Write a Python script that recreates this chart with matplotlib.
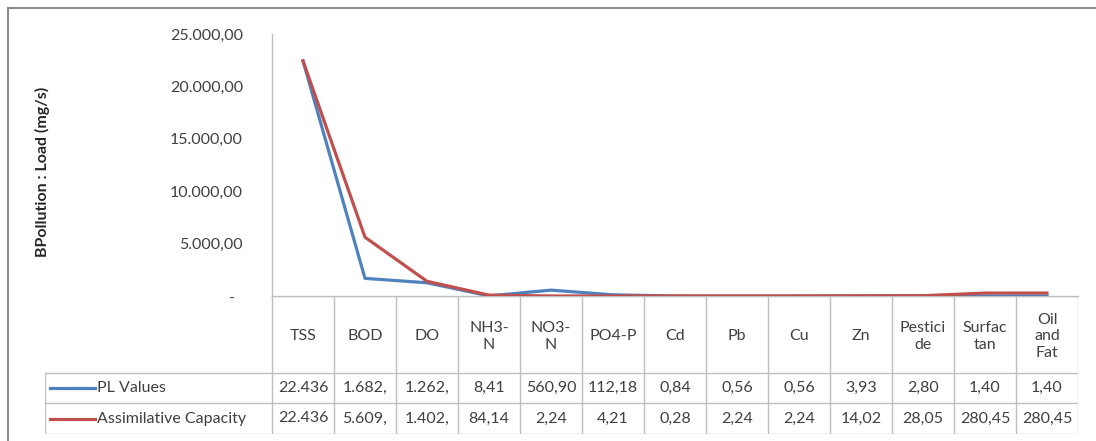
import matplotlib
matplotlib.use("Agg")
import matplotlib.pyplot as plt
from matplotlib.ticker import FuncFormatter
from matplotlib.lines import Line2D

plt.rcParams['font.family'] = ['Lato', 'DejaVu Sans']

# ---------------- data ----------------
categories = ["TSS", "BOD", "DO", "NH3-\nN", "NO3-\nN", "PO4-P", "Cd", "Pb", "Cu",
              "Zn", "Pestici\nde", "Surfac\ntan", "Oil\nand\nFat"]
pl_values = [22436.0, 1682.0, 1262.0, 8.41, 560.90, 112.18, 0.84, 0.56, 0.56,
             3.93, 2.80, 1.40, 1.40]
assim_capacity = [22436.0, 5609.0, 1402.0, 84.14, 2.24, 4.21, 0.28, 2.24, 2.24,
                  14.02, 28.05, 280.45, 280.45]
series_names = ["PL Values", "Assimilative Capacity"]
y_label = "BPollution : Load (mg/s)"
y_ticks = [0, 5000, 10000, 15000, 20000, 25000]

# ---------------- style ----------------
W, H, DPI = 1096, 441, 100
BLUE = "#4F81BD"
RED = "#C0504D"
GRID = "#BFBFBF"
TXT = "#404040"
FS = 11.5


def id_fmt(v):
    s = f"{v:,.2f}"
    return s.replace(",", "X").replace(".", ",").replace("X", ".")


def cell_fmt(v):
    # the table cells are narrow: text is clipped to 6 characters
    return id_fmt(v)[:6]


def ytick_fmt(v, pos):
    if abs(v) < 1e-9:
        return "-  "
    return id_fmt(v)


# pixel layout
plot_left, plot_right = 272, 1078
plot_top, plot_bottom = 34, 296
legend_left = 45
row1, row2, table_bottom = 373, 403, 434
n = len(categories)
col_w = (plot_right - plot_left) / n

fig = plt.figure(figsize=(W / DPI, H / DPI), dpi=DPI)
fig.patch.set_facecolor("white")


def fx(px):
    return px / W


def fy(py):
    return 1 - py / H


ax = fig.add_axes([fx(plot_left), fy(plot_bottom), fx(plot_right - plot_left),
                   (plot_bottom - plot_top) / H])
x = [i + 0.5 for i in range(n)]
ax.plot(x, pl_values, color=BLUE, lw=2.3, solid_joinstyle="round", zorder=3)
ax.plot(x, assim_capacity, color=RED, lw=2.3, solid_joinstyle="round", zorder=4)
ax.set_xlim(0, n)
ax.set_ylim(0, 25000)
ax.set_yticks(y_ticks)
ax.yaxis.set_major_formatter(FuncFormatter(ytick_fmt))
ax.tick_params(axis="y", length=0, pad=21, labelsize=FS, labelcolor=TXT)
ax.set_xticks([])
for side in ["top", "right"]:
    ax.spines[side].set_visible(False)
ax.spines["left"].set_color(GRID)
ax.spines["bottom"].set_color(GRID)
ax.spines["left"].set_linewidth(1.0)
ax.spines["bottom"].set_linewidth(1.0)
ax.set_ylabel(y_label, fontsize=11.5, fontweight="bold", color="#262626", labelpad=0)
ax.yaxis.set_label_coords(-(plot_left - 50) / (plot_right - plot_left), 0.475)

# ---------------- data table ----------------
tax = fig.add_axes([fx(legend_left), fy(table_bottom), fx(plot_right - legend_left),
                    (table_bottom - plot_bottom) / H])
tax.set_xlim(-(plot_left - legend_left) / col_w, n)
tax.set_ylim(table_bottom, plot_bottom)
tax.axis("off")
lx0 = -(plot_left - legend_left) / col_w

# vertical lines
for i in range(n + 1):
    tax.plot([i, i], [plot_bottom, table_bottom], color=GRID, lw=1.0)
tax.plot([lx0, lx0], [row1, table_bottom], color=GRID, lw=1.0)
# horizontal lines
tax.plot([0, n], [plot_bottom, plot_bottom], color=GRID, lw=1.0)
for yy in [row1, row2, table_bottom]:
    tax.plot([lx0, n], [yy, yy], color=GRID, lw=1.0)

# header
for i, c in enumerate(categories):
    tax.text(i + 0.5, (plot_bottom + row1) / 2 + 2, c, ha="center", va="center",
             fontsize=FS, color=TXT, linespacing=1.25)

# rows
for vals, yy0, yy1, col, name in [(pl_values, row1, row2, BLUE, series_names[0]),
                                   (assim_capacity, row2, table_bottom, RED, series_names[1])]:
    yc = (yy0 + yy1) / 2
    for i, v in enumerate(vals):
        tax.text(i + 0.5, yc, cell_fmt(v), ha="center", va="center",
                 fontsize=FS, color=TXT)
    sx0 = lx0 + (50 - legend_left) / col_w
    sx1 = lx0 + (95 - legend_left) / col_w
    tax.plot([sx0, sx1], [yc, yc], color=col, lw=2.3)
    tax.text(sx1 + 2 / col_w, yc, name, ha="left", va="center", fontsize=FS, color=TXT)

# outer chart border (left and top visible)
fig.add_artist(Line2D([fx(8), fx(8)], [fy(8), 0], color="#8C8C8C", lw=1.5))
fig.add_artist(Line2D([fx(8), 1], [fy(8), fy(8)], color="#8C8C8C", lw=1.5))

fig.savefig("out.png", dpi=DPI, facecolor="white")
